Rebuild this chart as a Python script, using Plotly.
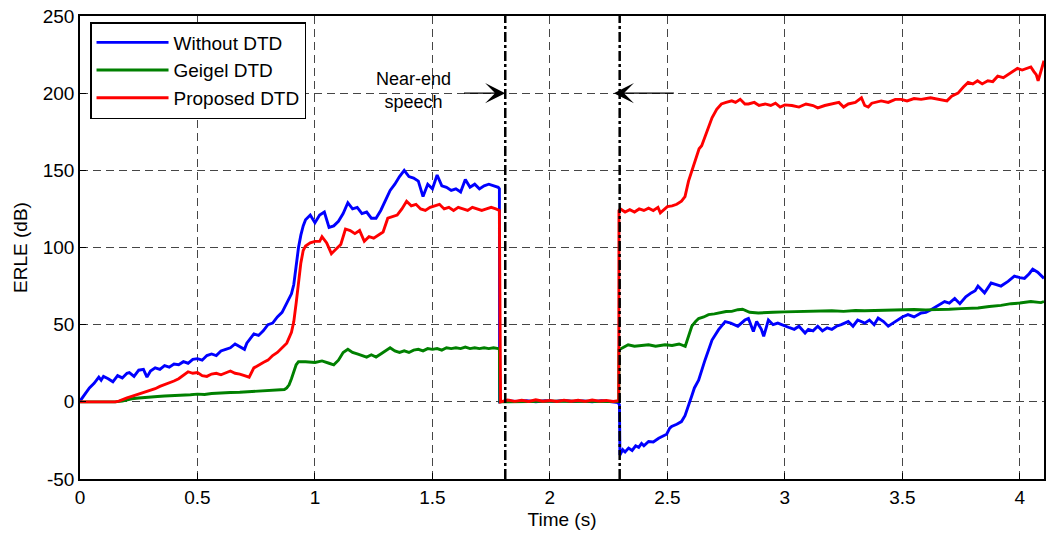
import plotly.graph_objects as go

# ---------------- data ----------------
# Without DTD (blue): (time s, ERLE dB)
blue_pts = [
    (0, 0.5), (0.02, 5), (0.04, 9), (0.06, 12), (0.08, 16), (0.09, 14), (0.1, 16.5), (0.12, 15),
    (0.14, 13), (0.16, 17), (0.18, 15.5), (0.2, 18.5), (0.21, 19), (0.23, 16.5), (0.25, 20.5),
    (0.27, 21), (0.285, 16), (0.3, 20), (0.32, 22), (0.34, 21), (0.36, 23.5), (0.38, 22.5),
    (0.4, 24.5), (0.42, 24), (0.44, 26), (0.46, 25), (0.48, 27.5), (0.5, 28), (0.52, 27),
    (0.54, 30), (0.56, 31), (0.58, 30), (0.6, 33), (0.62, 34), (0.64, 35), (0.66, 37.5),
    (0.68, 36), (0.7, 34), (0.71, 38), (0.72, 40), (0.74, 44), (0.76, 43), (0.78, 46),
    (0.8, 50), (0.82, 51), (0.84, 55), (0.86, 58), (0.88, 64), (0.9, 70), (0.91, 76),
    (0.92, 88), (0.93, 100), (0.94, 108), (0.95, 114), (0.96, 118), (0.98, 121), (1.0, 116),
    (1.02, 121), (1.04, 123), (1.06, 113), (1.08, 114), (1.1, 117), (1.12, 122), (1.14, 129),
    (1.16, 125), (1.18, 126), (1.2, 122), (1.22, 123), (1.24, 119), (1.26, 119), (1.28, 124),
    (1.3, 131), (1.32, 137), (1.34, 141), (1.36, 146), (1.38, 150), (1.4, 146), (1.42, 145),
    (1.44, 143), (1.46, 133), (1.48, 141), (1.5, 138), (1.52, 147), (1.54, 140), (1.56, 139),
    (1.58, 137), (1.6, 138), (1.62, 136), (1.64, 144), (1.66, 139), (1.68, 141), (1.7, 138),
    (1.72, 140), (1.74, 141), (1.76, 140), (1.78, 139), (1.785, 138),
    (1.786, 0), (1.82, 0.6), (1.86, 0.2), (1.9, 0.8), (1.94, 0.1), (1.98, 0.7), (2.02, 0.3),
    (2.06, 0.9), (2.1, 0.2), (2.14, 0.6), (2.18, 0.1), (2.22, 0.8), (2.26, 0.3), (2.29, -0.5),
    (2.296, -2), (2.298, -34.5), (2.31, -31), (2.32, -32.5), (2.335, -30), (2.35, -31.5),
    (2.365, -28.5), (2.378, -29.5), (2.39, -27), (2.4, -28.5), (2.42, -25.7), (2.44, -26),
    (2.463, -23.6), (2.48, -22.5), (2.497, -21), (2.51, -17), (2.518, -16), (2.54, -14.5),
    (2.56, -12.8), (2.575, -9), (2.59, -3), (2.603, 3.5), (2.615, 9), (2.633, 14), (2.66, 27),
    (2.69, 40), (2.718, 46.8), (2.746, 52), (2.77, 51), (2.8, 49), (2.83, 53), (2.845, 54),
    (2.866, 45.6), (2.88, 52), (2.9, 47), (2.91, 42.4), (2.93, 53), (2.95, 50), (2.97, 51),
    (3.0, 49), (3.02, 48), (3.04, 47), (3.06, 49), (3.086, 44.6), (3.1, 47), (3.12, 46),
    (3.14, 49), (3.16, 46), (3.18, 48), (3.2, 47), (3.22, 49), (3.24, 50), (3.27, 52),
    (3.29, 49), (3.31, 53), (3.34, 51), (3.36, 53), (3.38, 50), (3.397, 54.3), (3.42, 52),
    (3.44, 49), (3.46, 51), (3.482, 53), (3.5, 55), (3.524, 56.5), (3.55, 55), (3.58, 57.6),
    (3.6, 58), (3.622, 59.7), (3.65, 62), (3.68, 65), (3.7, 64), (3.723, 67), (3.745, 63.6),
    (3.77, 68), (3.793, 70.6), (3.81, 72), (3.822, 75), (3.85, 70.6), (3.865, 74), (3.878, 77),
    (3.9, 76), (3.92, 75), (3.95, 78), (3.977, 81.4), (4.0, 80.5), (4.02, 80), (4.04, 83),
    (4.055, 86), (4.076, 84), (4.09, 82), (4.103, 80),
]

# Geigel DTD (green)
green_pts = [
    (0, 0), (0.1, 0), (0.15, 0), (0.18, 0.5), (0.2, 1.5), (0.22, 2), (0.25, 2.5), (0.28, 3),
    (0.3, 3.2), (0.33, 3.5), (0.36, 3.8), (0.4, 4), (0.43, 4.5), (0.47, 4.6), (0.5, 5),
    (0.53, 4.8), (0.56, 5.4), (0.6, 5.5), (0.64, 6), (0.68, 6.2), (0.72, 6.5), (0.76, 7),
    (0.8, 7.2), (0.84, 7.5), (0.87, 8), (0.88, 9), (0.89, 11), (0.9, 15), (0.91, 19),
    (0.92, 24), (0.93, 26), (0.96, 26), (1.0, 25.5), (1.03, 26.5), (1.06, 25), (1.08, 24),
    (1.1, 27), (1.12, 32), (1.14, 34), (1.16, 32), (1.18, 31), (1.2, 30), (1.22, 29),
    (1.24, 30.5), (1.26, 29), (1.28, 31), (1.3, 33), (1.32, 35), (1.34, 33), (1.36, 32),
    (1.38, 33), (1.4, 32), (1.42, 33.5), (1.44, 34), (1.46, 33), (1.48, 34.5), (1.5, 34),
    (1.52, 34.5), (1.54, 33.5), (1.56, 35), (1.58, 34.5), (1.6, 35), (1.62, 34.5),
    (1.64, 35.5), (1.66, 34.5), (1.68, 35), (1.7, 34.5), (1.72, 35), (1.74, 34.5), (1.76, 35),
    (1.78, 34.5), (1.785, 34),
    (1.787, 0), (2.0, 0.4), (2.293, 0.2),
    (2.294, 33.8), (2.31, 35), (2.333, 37), (2.36, 36), (2.39, 36.5), (2.42, 37), (2.45, 36),
    (2.49, 37), (2.52, 36.5), (2.55, 37.5), (2.576, 36), (2.59, 42), (2.604, 49), (2.62, 52),
    (2.633, 54), (2.655, 55), (2.675, 56.5), (2.7, 57), (2.718, 57.6), (2.75, 58.5),
    (2.774, 58.6), (2.8, 59.7), (2.82, 60), (2.85, 58), (2.887, 57.6), (2.916, 57.6),
    (2.95, 58), (3.0, 58.3), (3.057, 58.6), (3.1, 58.4), (3.15, 58.8), (3.2, 59), (3.25, 58.6),
    (3.3, 59.2), (3.34, 59), (3.397, 59.3), (3.45, 59.5), (3.5, 59.4), (3.55, 59.8),
    (3.6, 59.6), (3.652, 59.7), (3.7, 60), (3.75, 60.4), (3.8, 60.5), (3.822, 60.8),
    (3.87, 61.8), (3.92, 62.5), (3.963, 63.6), (4.0, 64), (4.047, 65), (4.07, 64.5),
    (4.09, 64.3), (4.103, 65),
]

# Proposed DTD (red)
red_pts = [
    (0, 0), (0.05, 0), (0.1, 0), (0.15, 0), (0.165, 0.5), (0.18, 1.5), (0.2, 2.5), (0.22, 3.5),
    (0.24, 4.5), (0.26, 5.5), (0.28, 6.5), (0.3, 7.5), (0.32, 8.5), (0.34, 10), (0.36, 11),
    (0.38, 12.5), (0.4, 13.5), (0.42, 15), (0.44, 17), (0.46, 19.5), (0.48, 18.5), (0.5, 19),
    (0.52, 17), (0.54, 16.5), (0.56, 18), (0.58, 18.5), (0.6, 17.5), (0.62, 19), (0.64, 20),
    (0.66, 18.5), (0.68, 18), (0.7, 17), (0.72, 16), (0.74, 22), (0.76, 24), (0.78, 25.5),
    (0.8, 27), (0.82, 30), (0.84, 32), (0.86, 35), (0.88, 38), (0.9, 45), (0.91, 52),
    (0.92, 64), (0.93, 78), (0.94, 90), (0.95, 98), (0.96, 101), (0.98, 103), (1.0, 104),
    (1.02, 104), (1.03, 107), (1.05, 103), (1.07, 96), (1.09, 99), (1.11, 102), (1.13, 112),
    (1.15, 111), (1.17, 109), (1.19, 111), (1.21, 104), (1.23, 107), (1.25, 106), (1.27, 108),
    (1.29, 110), (1.31, 119), (1.33, 120), (1.35, 121), (1.37, 125), (1.39, 130), (1.41, 127),
    (1.43, 128), (1.45, 125), (1.47, 124), (1.49, 126), (1.51, 127), (1.53, 128), (1.55, 125),
    (1.57, 126), (1.59, 124), (1.61, 126), (1.63, 125), (1.65, 124), (1.67, 126), (1.69, 125),
    (1.71, 124), (1.73, 125), (1.75, 126), (1.77, 125), (1.785, 124),
    (1.79, 0), (1.82, 1.2), (1.85, 0.3), (1.88, 1.0), (1.91, 0.2), (1.94, 1.3), (1.97, 0.4),
    (2.0, 0.9), (2.03, 0.2), (2.06, 1.1), (2.09, 0.4), (2.12, 1.0), (2.15, 0.3), (2.18, 1.2),
    (2.21, 0.5), (2.24, 0.9), (2.27, 0.2), (2.293, 0.8),
    (2.294, 124), (2.3, 125), (2.32, 123), (2.34, 124.5), (2.36, 123), (2.38, 125), (2.4, 124),
    (2.42, 125.5), (2.44, 124), (2.46, 126), (2.47, 122.5), (2.48, 124), (2.5, 126.5),
    (2.52, 127), (2.54, 128), (2.56, 130), (2.575, 133), (2.59, 143), (2.6, 148), (2.62, 157),
    (2.635, 164), (2.646, 166), (2.66, 172), (2.675, 179), (2.69, 184), (2.71, 189.5),
    (2.73, 193), (2.75, 194), (2.774, 195), (2.79, 194), (2.81, 196), (2.83, 193), (2.845, 193),
    (2.87, 194), (2.89, 192), (2.916, 193), (2.94, 192), (2.96, 193.5), (2.98, 191),
    (3.0, 192.4), (3.03, 192), (3.06, 191), (3.09, 193), (3.12, 192), (3.14, 190.5),
    (3.17, 192), (3.2, 193), (3.23, 194), (3.25, 191), (3.27, 193), (3.3, 194), (3.326, 197),
    (3.34, 192), (3.355, 191), (3.37, 193.5), (3.41, 195), (3.44, 194), (3.47, 196),
    (3.495, 196), (3.52, 195), (3.55, 196.5), (3.58, 196), (3.62, 197), (3.65, 196),
    (3.69, 195), (3.71, 198), (3.737, 200), (3.76, 204), (3.78, 207), (3.8, 206), (3.82, 208),
    (3.84, 206), (3.864, 208), (3.885, 207.5), (3.906, 211), (3.93, 210), (3.95, 212),
    (3.97, 214), (3.99, 216), (4.01, 215), (4.03, 216), (4.047, 217), (4.06, 214), (4.07, 212),
    (4.078, 208), (4.085, 212), (4.095, 218), (4.103, 221),
]

series_names = ["Without DTD", "Geigel DTD", "Proposed DTD"]
series_colors = ["#0000ff", "#008000", "#ff0000"]

near_end_bounds = [1.81, 2.297]        # dash-dot markers (s)
arrow_right = (1.628, 1.81, 200)       # tail x, head x, y
arrow_left = (2.534, 2.272, 200)
note_text = "Near-end<br>speech"

x_ticks = [0, 0.5, 1, 1.5, 2, 2.5, 3, 3.5, 4]
y_ticks = [-50, 0, 50, 100, 150, 200, 250]

# ---------------- figure ----------------
FONT = "Liberation Sans, Arial, Helvetica, sans-serif"
fig = go.Figure()
for pts, name, col in zip([blue_pts, green_pts, red_pts], series_names, series_colors):
    tx, vy = zip(*pts)
    fig.add_trace(go.Scatter(x=list(tx), y=list(vy), mode="lines", name=name,
                             line=dict(color=col, width=2.9)))

for xb in near_end_bounds:
    fig.add_shape(type="line", xref="x", yref="y", x0=xb, x1=xb, y0=-50, y1=250,
                  line=dict(color="black", width=2.5, dash="10px,3px,3px,3px"), layer="above")

for tail, head, yy in [arrow_right, arrow_left]:
    fig.add_annotation(x=head, y=yy, ax=tail, ay=yy, xref="x", yref="y", axref="x", ayref="y",
                       text="", showarrow=True, arrowhead=3, arrowsize=2.4, arrowwidth=1.4,
                       arrowcolor="black", standoff=0)

fig.add_annotation(x=1.42, y=202, xref="x", yref="y", text=note_text, showarrow=False,
                   font=dict(family=FONT, size=18, color="black"), align="center")

grid = dict(showgrid=True, gridcolor="rgba(50,50,50,0.9)", gridwidth=1, griddash="8px,5px",
            zeroline=False, showline=True, linecolor="black", linewidth=1.5, mirror=True,
            ticks="inside", ticklen=6, tickcolor="black",
            tickfont=dict(family=FONT, size=19, color="black"))

fig.update_xaxes(range=[0, 4.103], tickvals=x_ticks, ticktext=[f"{v:g}" for v in x_ticks],
                 title=dict(text="Time (s)", font=dict(family=FONT, size=19, color="black"),
                            standoff=6), **grid)
fig.update_yaxes(range=[-50, 250], tickvals=y_ticks, ticktext=[str(v) for v in y_ticks],
                 title=dict(text="ERLE (dB)", font=dict(family=FONT, size=19, color="black"),
                            standoff=10), **grid)

fig.update_layout(
    width=1046, height=536,
    margin=dict(l=80, r=0, t=16, b=57),
    paper_bgcolor="white", plot_bgcolor="white",
    font=dict(family=FONT, size=19, color="black"),
    showlegend=True,
    legend=dict(x=0.0104, y=0.987, xanchor="left", yanchor="top",
                bgcolor="white", bordercolor="black", borderwidth=1.5,
                font=dict(family=FONT, size=19, color="black"),
                itemwidth=72, tracegroupgap=0),
)

fig.write_html("out.html")
